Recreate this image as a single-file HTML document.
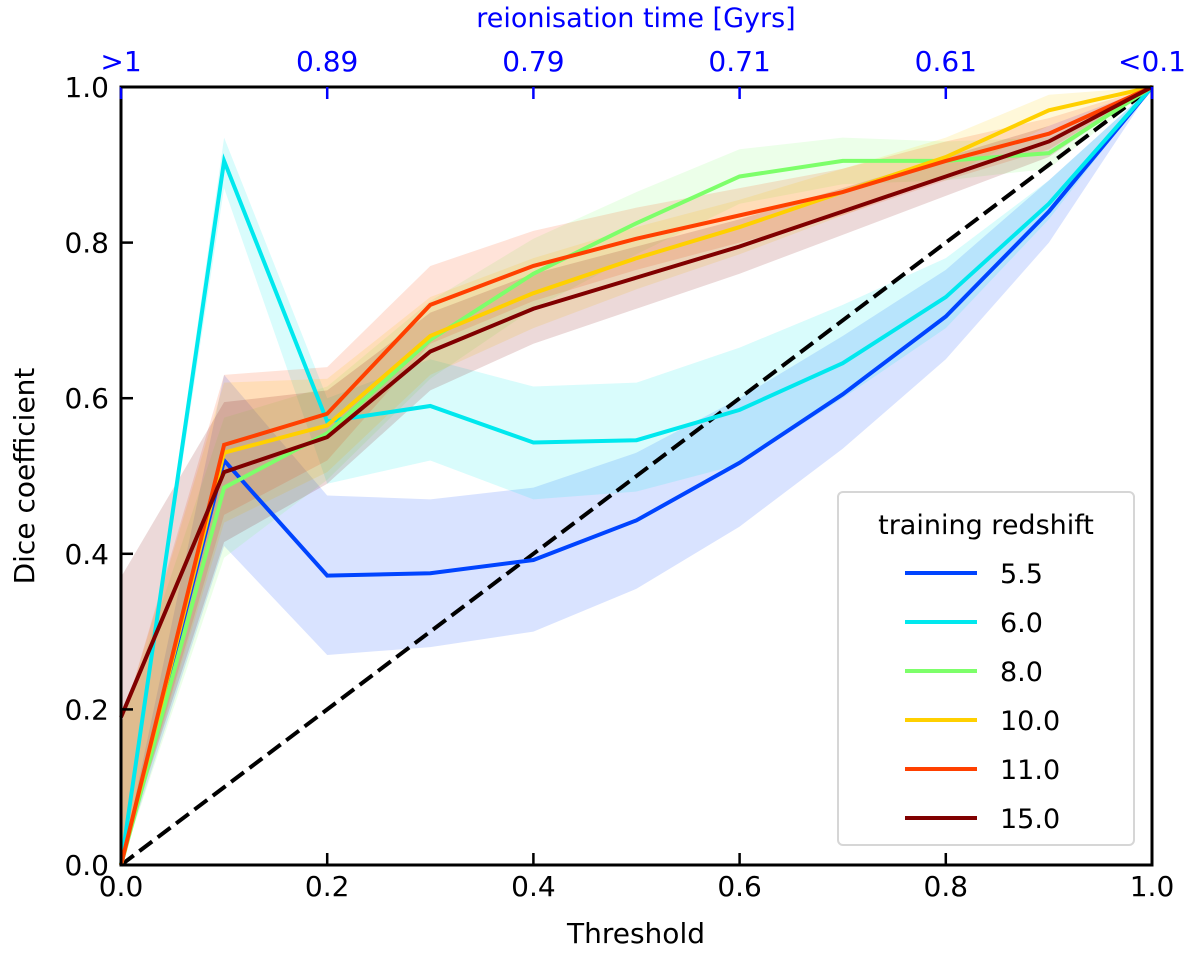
<!DOCTYPE html>
<html><head><meta charset="utf-8"><style>
body{margin:0;background:#fff}
svg{display:block;font-family:"DejaVu Sans","Liberation Sans",sans-serif}
</style></head><body>
<svg id="chart" width="1200" height="960" viewBox="0 0 1200 960"></svg>
<script>
const thresholds=[0,0.1,0.2,0.3,0.4,0.5,0.6,0.7,0.8,0.9,1.0];
const seriesNames=["5.5","6.0","8.0","10.0","11.0","15.0"];
const seriesColors=["#0044ff","#00e8ee","#7dff6a","#ffd000","#ff4000","#800000"];
const vals55=[0,0.52,0.372,0.375,0.392,0.443,0.517,0.605,0.705,0.84,1.0];
const lo55=[0,0.41,0.27,0.28,0.30,0.355,0.435,0.535,0.65,0.80,1.0];
const hi55=[0,0.63,0.475,0.47,0.485,0.53,0.60,0.68,0.765,0.88,1.0];
const vals60=[0,0.905,0.57,0.59,0.543,0.546,0.585,0.645,0.73,0.85,1.0];
const lo60=[0,0.87,0.49,0.52,0.47,0.48,0.515,0.60,0.69,0.83,1.0];
const hi60=[0,0.935,0.60,0.65,0.615,0.62,0.665,0.72,0.78,0.88,1.0];
const vals80=[0,0.485,0.555,0.675,0.76,0.825,0.885,0.905,0.905,0.915,1.0];
const vals100=[0,0.53,0.565,0.68,0.735,0.78,0.82,0.865,0.91,0.97,1.0];
const vals110=[0,0.54,0.58,0.72,0.77,0.805,0.835,0.865,0.905,0.94,1.0];
const vals150=[0.19,0.505,0.55,0.66,0.715,0.755,0.795,0.84,0.885,0.93,1.0];
const warmErr=[0.18,0.09,0.06,0.05,0.045,0.04,0.035,0.03,0.025,0.02,0];
const xTicks=[0,0.2,0.4,0.6,0.8,1.0];
const xTickLabels=["0.0","0.2","0.4","0.6","0.8","1.0"];
const yTicks=[0,0.2,0.4,0.6,0.8,1.0];
const yTickLabels=["0.0","0.2","0.4","0.6","0.8","1.0"];
const topTickLabels=[">1","0.89","0.79","0.71","0.61","<0.1"];

const X0=121,X1=1152,Y0=865,Y1=87;
const sx=v=>X0+(X1-X0)*v, sy=v=>Y0-(Y0-Y1)*v;
const svg=document.getElementById('chart');
const NS="http://www.w3.org/2000/svg";
function mk(tag,attrs,parent){const e=document.createElementNS(NS,tag);for(const k in attrs)e.setAttribute(k,attrs[k]);(parent||svg).appendChild(e);return e;}
function pts(v){return v.map((y,i)=>sx(thresholds[i])+","+sy(y)).join(" ");}
function band(lo,hi,color,name){
  const p=lo.map((y,i)=>sx(thresholds[i])+","+sy(y)).concat(hi.map((y,i)=>sx(thresholds[i])+","+sy(y)).reverse()).join(" ");
  const e=mk('polygon',{points:p,fill:color,'fill-opacity':0.15});
  
  
}
const allVals=[vals55,vals60,vals80,vals100,vals110,vals150];
const los=[lo55,lo60],his=[hi55,hi60];
for(let s=0;s<6;s++){
  let lo,hi;
  if(s<2){lo=los[s];hi=his[s];}
  else{lo=allVals[s].map((v,i)=>Math.max(0,v-warmErr[i]));hi=allVals[s].map((v,i)=>Math.min(1,v+warmErr[i]));}
  band(lo,hi,seriesColors[s],'band-z'+seriesNames[s]);
}
const diag=mk('line',{x1:sx(0),y1:sy(0),x2:sx(1),y2:sy(1),stroke:'#000','stroke-width':4,'stroke-dasharray':'16,7'});


for(let s=0;s<6;s++){
  const l=mk('polyline',{points:pts(allVals[s]),fill:'none',stroke:seriesColors[s],'stroke-width':4,'stroke-linejoin':'miter'});
  
  
}
const frame=mk('rect',{x:X0,y:Y1,width:X1-X0,height:Y0-Y1,fill:'none',stroke:'#000','stroke-width':3});


xTicks.forEach((t,i)=>{
  mk('line',{x1:sx(t),y1:Y0,x2:sx(t),y2:Y0-12,stroke:'#000','stroke-width':2.5});
  const tx=mk('text',{x:sx(t),y:Y0+31,'text-anchor':'middle','font-size':28,fill:'#000'});tx.textContent=xTickLabels[i];
  
  
  mk('line',{x1:sx(t),y1:Y1,x2:sx(t),y2:Y1+12,stroke:'#0000ff','stroke-width':2.5});
  const tt=mk('text',{x:sx(t),y:Y1-16,'text-anchor':'middle','font-size':28,fill:'#0000ff'});tt.textContent=topTickLabels[i];
  
  
});
yTicks.forEach((t,i)=>{
  mk('line',{x1:X0,y1:sy(t),x2:X0+12,y2:sy(t),stroke:'#000','stroke-width':2.5});
  const ty=mk('text',{x:X0-12,y:sy(t)+10,'text-anchor':'end','font-size':28,fill:'#000'});ty.textContent=yTickLabels[i];
  
  
});
const xt=mk('text',{x:636,y:943,'text-anchor':'middle','font-size':28,fill:'#000'});xt.textContent="Threshold";


const yt=mk('text',{x:34,y:476,'text-anchor':'middle','font-size':28,fill:'#000',transform:'rotate(-90 34 476)'});yt.textContent="Dice coefficient";


const tt=mk('text',{x:636,y:27,'text-anchor':'middle','font-size':27,fill:'#0000ff'});tt.textContent="reionisation time [Gyrs]";


const lg=mk('g',{});


mk('rect',{x:838,y:492,width:296,height:353,rx:5,fill:'#fff','fill-opacity':0.85,stroke:'#d6d6d6','stroke-width':2},lg);
const lt=mk('text',{x:986,y:534,'text-anchor':'middle','font-size':27,fill:'#000'},lg);lt.textContent="training redshift";
for(let s=0;s<6;s++){
  const y=573+s*49;
  const g=mk('g',{},lg);
  
  
  mk('line',{x1:905,y1:y,x2:977,y2:y,stroke:seriesColors[s],'stroke-width':4},g);
  const t=mk('text',{x:1000,y:y+10,'font-size':27,fill:'#000'},g);t.textContent=seriesNames[s];
}
</script>
</body></html>
